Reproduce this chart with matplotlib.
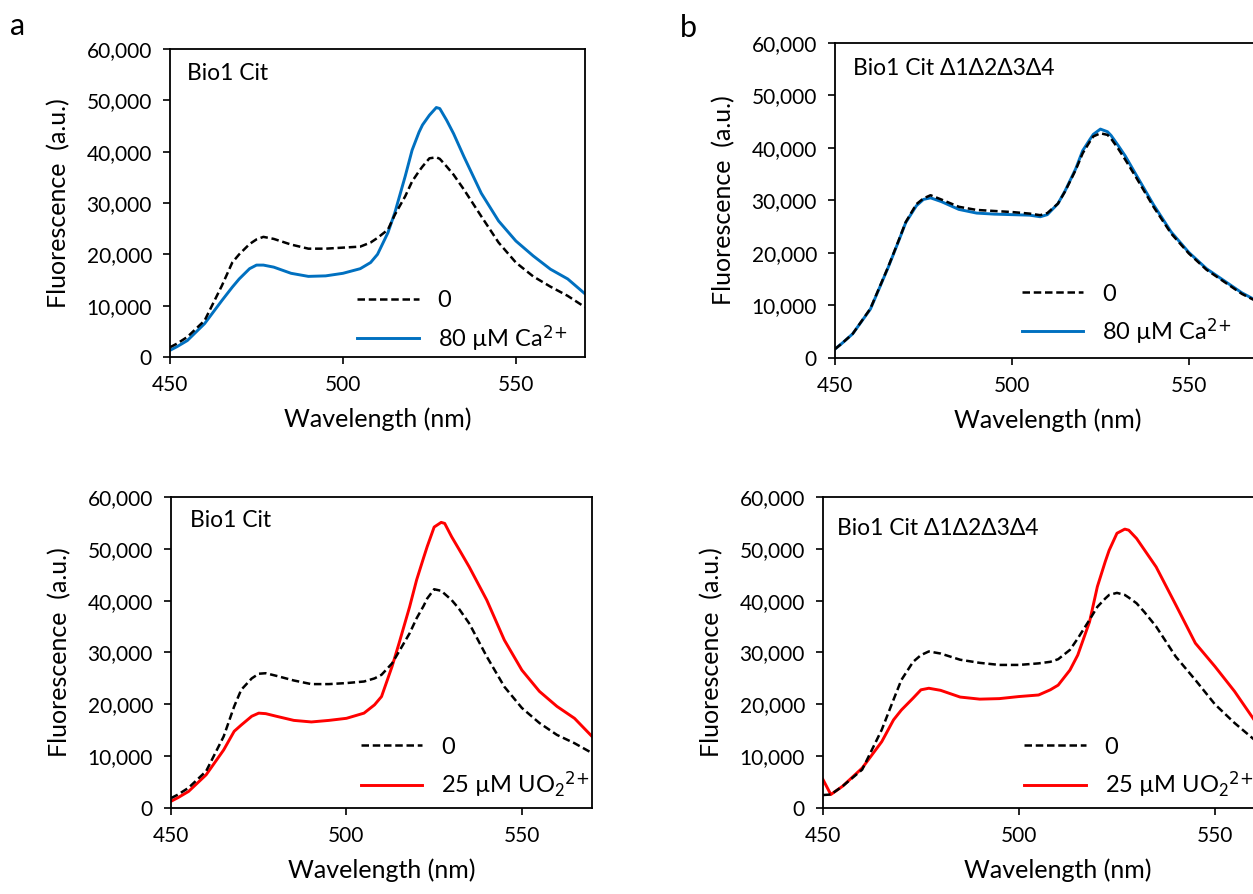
import matplotlib
matplotlib.use("Agg")
import matplotlib.pyplot as plt
from matplotlib.ticker import StrMethodFormatter
import numpy as np

plt.rcParams["font.family"] = ["Lato", "DejaVu Sans"]
plt.rcParams["mathtext.default"] = "regular"

# wavelength grid (nm) shared by all traces
WL = [450, 452, 455, 460, 465, 468, 470, 473, 475, 477, 480, 485, 490, 495,
      500, 505, 508, 510, 513, 515, 518, 520, 522, 523, 525, 527, 528, 530,
      532, 535, 540, 545, 550, 555, 560, 565, 570]

# fluorescence, thousands a.u.
A_CTRL = [1.9, 2.6, 3.9, 7.1, 13.9, 18.4, 20.0, 22.0, 22.9, 23.4, 23.0, 21.9,
          21.1, 21.1, 21.3, 21.5, 22.3, 23.2, 24.8, 27.7, 31.3, 34.2, 36.2,
          37.1, 38.7, 38.9, 38.6, 37.1, 35.5, 32.6, 27.4, 22.3, 18.4, 15.7,
          13.7, 11.9, 9.7]
A_CA = [1.3, 2.0, 3.2, 6.5, 11.0, 13.6, 15.2, 17.2, 17.9, 17.9, 17.5, 16.3,
        15.7, 15.8, 16.3, 17.2, 18.4, 20.0, 24.2, 28.1, 35.2, 40.3, 43.8,
        45.2, 47.1, 48.6, 48.4, 46.1, 43.5, 39.0, 31.9, 26.5, 22.6, 19.7,
        17.1, 15.2, 12.3]

B_CTRL = [1.7, 2.8, 4.6, 9.4, 17.3, 22.4, 25.9, 29.3, 30.4, 31.0, 30.2, 28.8,
          28.2, 28.0, 27.8, 27.5, 27.2, 27.6, 29.4, 31.7, 35.8, 39.0, 41.2,
          42.2, 42.8, 42.5, 41.8, 39.9, 37.8, 34.5, 28.8, 23.7, 19.9, 16.8,
          14.5, 12.2, 10.5]
B_CA = [1.7, 2.8, 4.6, 9.3, 17.2, 22.3, 25.8, 29.0, 30.2, 30.5, 29.8, 28.3,
        27.6, 27.4, 27.3, 27.2, 26.9, 27.3, 29.4, 31.8, 36.0, 39.5, 41.6,
        42.6, 43.6, 43.1, 42.4, 40.5, 38.5, 35.0, 29.2, 24.0, 20.1, 17.0,
        14.7, 12.4, 10.6]

C_CTRL = [1.9, 2.6, 3.9, 7.1, 13.8, 19.6, 22.8, 25.0, 25.9, 26.0, 25.5, 24.6,
          23.9, 23.9, 24.1, 24.4, 25.0, 25.7, 27.9, 30.2, 33.7, 36.6, 39.0,
          40.4, 42.2, 41.9, 41.3, 40.1, 38.5, 35.6, 29.2, 23.4, 19.3, 16.4,
          14.1, 12.5, 10.6]
C_UO2 = [1.3, 2.0, 3.2, 6.4, 11.2, 14.8, 16.0, 17.7, 18.3, 18.2, 17.7, 16.9,
         16.6, 16.9, 17.3, 18.3, 19.9, 21.5, 27.3, 31.8, 38.8, 44.0, 48.3,
         50.4, 54.2, 55.1, 54.9, 52.3, 50.0, 46.5, 40.1, 32.4, 26.6, 22.5,
         19.6, 17.3, 13.8]

D_CTRL = [2.5, 2.6, 4.2, 7.4, 15.1, 20.9, 24.7, 28.2, 29.5, 30.2, 29.8, 28.6,
          28.0, 27.6, 27.6, 27.9, 28.2, 28.7, 30.5, 32.7, 36.3, 38.8, 40.4,
          41.1, 41.5, 41.1, 40.6, 39.5, 37.8, 35.0, 29.2, 24.7, 20.0, 16.4,
          13.2, 11.5, 10.0]
D_UO2 = [5.5, 2.6, 4.2, 7.7, 12.8, 17.0, 18.9, 21.2, 22.8, 23.1, 22.7, 21.4,
         21.0, 21.1, 21.5, 21.8, 22.8, 23.7, 26.6, 29.5, 35.9, 42.7, 47.5,
         49.7, 53.0, 53.8, 53.6, 52.0, 49.8, 46.5, 39.2, 31.8, 27.3, 22.5,
         17.0, 14.5, 12.5]

STRAIN_WT = "Bio1 Cit"
STRAIN_MUT = "Bio1 Cit \u03941\u03942\u03943\u03944"
LBL_CA = "80 \u00b5M Ca$^{\\text{2+}}$"
LBL_UO2 = "25 \u00b5M UO$_2$$^{\\text{2+}}$"

BLUE = "#0070C0"
RED = "#FF0000"

# (axes rect in figure fraction, control, treated, colour, label, strain, strain pos, legend anchor)
PANELS = [
    ([0.1357, 0.6007, 0.3312, 0.3445], A_CTRL, A_CA, BLUE, LBL_CA, STRAIN_WT,
     (0.040, 0.92), (0.40, -0.055)),
    ([0.6664, 0.5996, 0.3389, 0.3523], B_CTRL, B_CA, BLUE, LBL_CA, STRAIN_MUT,
     (0.042, 0.92), (0.39, -0.03)),
    ([0.1365, 0.0962, 0.3360, 0.3479], C_CTRL, C_UO2, RED, LBL_UO2, STRAIN_WT,
     (0.045, 0.925), (0.40, -0.04)),
    ([0.6568, 0.0962, 0.3754, 0.3479], D_CTRL, D_UO2, RED, LBL_UO2, STRAIN_MUT,
     (0.030, 0.90), (0.383, -0.04)),
]


def draw_panel(ax, ctrl, treat, color, label, strain, spos, lpos):
    wl = np.array(WL)
    ax.plot(wl, np.array(ctrl) * 1000, color="black", lw=1.8,
            ls=(0, (3.0, 1.5)), label="0", zorder=3)
    ax.plot(wl, np.array(treat) * 1000, color=color, lw=2.1, label=label,
            zorder=2)
    ax.set_xlim(450, 570)
    ax.set_ylim(0, 60000)
    ax.set_xticks([450, 500, 550])
    ax.set_yticks(range(0, 60001, 10000))
    ax.yaxis.set_major_formatter(StrMethodFormatter("{x:,.0f}"))
    ax.tick_params(direction="out", length=5, width=1.2, labelsize=15,
                   pad=8)
    for sp in ax.spines.values():
        sp.set_linewidth(1.3)
    ax.set_xlabel("Wavelength (nm)", fontsize=18, labelpad=9)
    ax.set_ylabel("Fluorescence  (a.u.)", fontsize=18, labelpad=12)
    ax.text(spos[0], spos[1], strain, transform=ax.transAxes, fontsize=16.5,
            va="center", ha="left")
    ax.legend(loc="lower left", bbox_to_anchor=lpos, frameon=False,
              fontsize=17, handlelength=2.6, handletextpad=0.8,
              labelspacing=0.5)


fig = plt.figure(figsize=(12.53, 8.94), dpi=100)
for rect, ctrl, treat, color, label, strain, spos, lpos in PANELS:
    ax = fig.add_axes(rect)
    draw_panel(ax, ctrl, treat, color, label, strain, spos, lpos)

fig.text(18 / 1253, 1 - 26 / 894, "a", fontsize=22, ha="center", va="center")
fig.text(688 / 1253, 1 - 28 / 894, "b", fontsize=22, ha="center", va="center")

fig.savefig("out.png", dpi=100)
